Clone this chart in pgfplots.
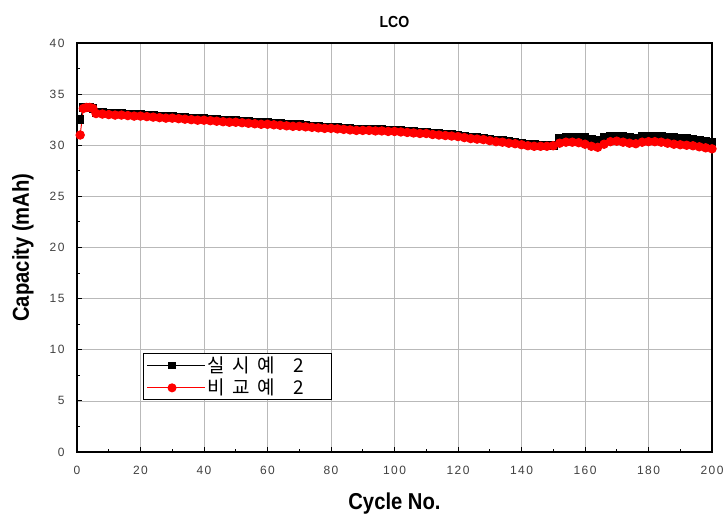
\documentclass[border=0pt]{standalone}
\usepackage{pgfplots}
\usepackage{pgfplotstable}
\pgfplotsset{compat=1.18}
\usepackage{fontspec}
\setmainfont{Liberation Sans}
\newfontfamily\kr{Noto Sans CJK KR}
\newfontfamily\tickfont[LetterSpace=12]{Liberation Sans}
\newfontfamily\labelfont[FakeStretch=0.88]{Liberation Sans Bold}

% Discharge capacity per cycle, example 2
\pgfplotstableread{
x y
1 32.5
2 33.7
3 33.7
4 33.7
5 33.6
6 33.2
8 33.2
10 33.15
12 33.1
14 33.1
16 33.05
18 33.0
20 33.0
22 32.95
24 32.9
26 32.85
28 32.8
30 32.8
32 32.75
34 32.7
36 32.65
38 32.6
40 32.6
42 32.55
44 32.5
46 32.45
48 32.4
50 32.4
52 32.35
54 32.3
56 32.25
58 32.2
60 32.2
62 32.15
64 32.1
66 32.05
68 32.0
70 32.0
72 31.95
74 31.9
76 31.85
78 31.8
80 31.8
82 31.75
84 31.7
86 31.65
88 31.6
90 31.6
92 31.6
94 31.55
96 31.55
98 31.5
100 31.5
102 31.45
104 31.4
106 31.35
108 31.3
110 31.3
112 31.2
114 31.15
116 31.1
118 31.05
120 31.0
122 30.9
124 30.8
126 30.75
128 30.7
130 30.6
132 30.5
134 30.45
136 30.35
138 30.3
140 30.2
142 30.1
144 30.05
146 30.0
148 30.0
150 30.0
152 30.7
154 30.8
156 30.8
158 30.8
160 30.75
162 30.6
164 30.5
166 30.8
168 30.9
170 30.9
172 30.85
174 30.75
176 30.7
178 30.85
180 30.9
182 30.9
184 30.85
186 30.8
188 30.75
190 30.7
192 30.65
194 30.6
196 30.5
198 30.4
200 30.3
}\exampletwo

% Discharge capacity per cycle, comparative example 2
\pgfplotstableread{
x y
1 31.0
2 33.6
3 33.7
4 33.7
5 33.6
6 33.1
8 33.05
10 33.0
12 32.95
14 32.95
16 32.9
18 32.85
20 32.85
22 32.8
24 32.75
26 32.7
28 32.65
30 32.65
32 32.6
34 32.55
36 32.5
38 32.45
40 32.45
42 32.4
44 32.35
46 32.3
48 32.25
50 32.25
52 32.2
54 32.15
56 32.1
58 32.05
60 32.05
62 32.0
64 31.95
66 31.9
68 31.85
70 31.85
72 31.8
74 31.75
76 31.7
78 31.65
80 31.65
82 31.6
84 31.55
86 31.5
88 31.45
90 31.45
92 31.45
94 31.4
96 31.4
98 31.35
100 31.35
102 31.3
104 31.25
106 31.2
108 31.15
110 31.15
112 31.05
114 31.0
116 30.95
118 30.9
120 30.85
122 30.75
124 30.65
126 30.6
128 30.55
130 30.45
132 30.35
134 30.3
136 30.2
138 30.15
140 30.05
142 29.95
144 29.9
146 29.9
148 29.9
150 29.95
152 30.2
154 30.3
156 30.3
158 30.25
160 30.1
162 29.9
164 29.8
166 30.1
168 30.35
170 30.4
172 30.3
174 30.2
176 30.15
178 30.3
180 30.35
182 30.35
184 30.3
186 30.2
188 30.1
190 30.05
192 30.0
194 29.95
196 29.85
198 29.75
200 29.65
}\comparativetwo

\begin{document}
\begin{tikzpicture}
% page frame around the plot area
\useasboundingbox (-77pt,-66pt) rectangle (651pt,452pt);
\begin{axis}[
  at={(0pt,0pt)}, anchor=south west,
  width=635pt, height=409pt, scale only axis,
  xmin=0, xmax=200, ymin=0, ymax=40,
  xtick={0,20,...,200}, ytick={0,5,...,40},
  minor x tick num=1, minor y tick num=1,
  grid=major,
  major grid style={draw=gray!55, line width=0.6pt},
  tick align=inside, xtick pos=bottom, ytick pos=left,
  major tick length=5pt, minor tick length=3pt,
  tick style={black, line width=1pt},
  axis line style={line width=1.3pt},
  /pgf/number format/assume math mode=true,
  ticklabel style={font=\tickfont\fontsize{12}{12}\selectfont, text=black!75},
  xticklabel style={anchor=center, yshift=-18.5pt},
  yticklabel style={anchor=east, xshift=-9pt},
  every axis x label/.style={at={(axis description cs:0.5,-0.125)}, anchor=center},
  every axis y label/.style={at={(axis description cs:-0.085,0.5)}, anchor=center, rotate=90},
  xlabel={Cycle No.},
  ylabel={Capacity (mAh)},
  label style={font=\labelfont\fontsize{23}{23}\selectfont},
  title={LCO},
  every axis title/.style={at={(axis description cs:0.5,1.052)}, anchor=center},
  title style={font=\labelfont\fontsize{16}{16}\selectfont},
  legend style={at={(rel axis cs:0.104,0.242)}, anchor=north west,
    draw=black, line width=1pt, inner xsep=3pt, inner ysep=2pt,
    font=\kr\fontsize{19}{19}\selectfont,
    nodes={inner sep=1.5pt},
    row sep=2pt},
  legend cell align=left,
]
\addplot[black, line width=1pt, mark=square*, mark size=3.8pt,
  legend image code/.code={
    \path (0pt,0pt) -- (58pt,0pt);
    \draw[black, line width=1pt] (0pt,0pt) -- (50pt,0pt);
    \fill[black] (21.5pt,-3.2pt) rectangle (28.5pt,3.2pt);
  }] table {\exampletwo};
\addlegendentry{실\hspace{0.4em}시\hspace{0.4em}예\hspace{1em}2\rule{23pt}{0pt}}
\addplot[red, line width=1pt, mark=*, mark size=4.2pt,
  legend image code/.code={
    \path (0pt,0pt) -- (58pt,0pt);
    \draw[red, line width=1pt] (0pt,0pt) -- (50pt,0pt);
    \fill[red] (25pt,0pt) circle (4pt);
  }] table {\comparativetwo};
\addlegendentry{비\hspace{0.4em}교\hspace{0.4em}예\hspace{1em}2\rule{23pt}{0pt}}
\end{axis}
\end{tikzpicture}
\end{document}
